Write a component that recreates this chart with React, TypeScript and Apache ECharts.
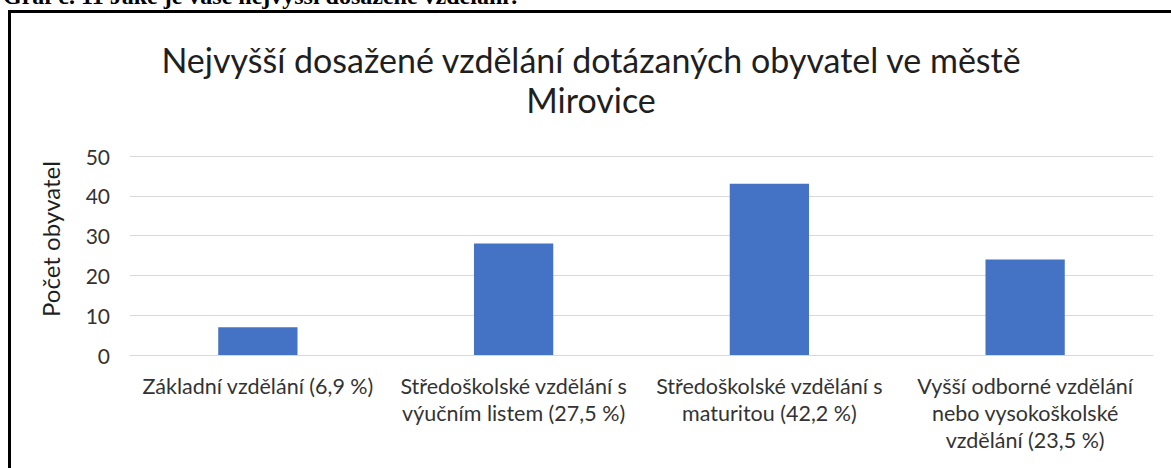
import React, { useEffect, useRef } from "react";
import * as echarts from "echarts";

const headerText = "Graf č. 11 Jaké je vaše nejvyšší dosažené vzdělání?";
const chartTitle = "Nejvyšší dosažené vzdělání dotázaných obyvatel ve městě\nMirovice";
const yAxisName = "Počet obyvatel";
const categories = [
  "Základní vzdělání (6,9 %)",
  "Středoškolské vzdělání s\nvýučním listem (27,5 %)",
  "Středoškolské vzdělání s\nmaturitou (42,2 %)",
  "Vyšší odborné vzdělání\nnebo vysokoškolské\nvzdělání (23,5 %)",
];
const counts = [7, 28, 43, 24];
const yTicks = { min: 0, max: 50, interval: 10 };

const FONT = "Lato, 'Open Sans', sans-serif";

export default function App() {
  const ref = useRef<HTMLDivElement>(null);
  useEffect(() => {
    if (!ref.current) return;
    const chart = echarts.init(ref.current, null, { renderer: "svg" });
    chart.setOption({
      animation: false,
      backgroundColor: "#ffffff",
      title: {
        text: chartTitle,
        left: 586,
        textAlign: "center",
        top: 34,
        textStyle: {
          fontFamily: FONT,
          fontSize: 34,
          fontWeight: "normal",
          color: "#1f1f1f",
          lineHeight: 40,
        },
      },
      graphic: [
        {
          type: "text",
          x: 3,
          y: 8,
          style: {
            text: headerText,
            font: "bold 24px 'Liberation Serif', serif",
            fill: "#000000",
            textVerticalAlign: "bottom",
          },
        },
        {
          type: "rect",
          shape: { x: 9.5, y: 11.5, width: 1300, height: 600 },
          style: { fill: "none", stroke: "#000000", lineWidth: 3 },
        },
        {
          type: "text",
          x: 50,
          y: 239,
          rotation: Math.PI / 2,
          style: {
            text: yAxisName,
            font: "24px " + FONT,
            fill: "#1f1f1f",
            textAlign: "center",
            textVerticalAlign: "middle",
          },
        },
      ],
      grid: { left: 130, right: 18, top: 156, bottom: 113 },
      xAxis: {
        type: "category",
        data: categories,
        axisLine: { lineStyle: { color: "#d9d9d9", width: 1 } },
        axisTick: { show: false },
        axisLabel: {
          interval: 0,
          margin: 17,
          fontFamily: FONT,
          fontSize: 21.5,
          lineHeight: 27,
          color: "#333333",
        },
      },
      yAxis: {
        type: "value",
        min: yTicks.min,
        max: yTicks.max,
        interval: yTicks.interval,
        axisLine: { show: false },
        axisTick: { show: false },
        splitLine: { lineStyle: { color: "#d9d9d9", width: 1 } },
        axisLabel: {
          margin: 20,
          fontFamily: FONT,
          fontSize: 21,
          color: "#333333",
        },
      },
      series: [
        {
          type: "bar",
          data: counts,
          barWidth: "31%",
          itemStyle: { color: "#4472c4" },
        },
      ],
    });
    return () => chart.dispose();
  }, []);
  return (
    <div
      ref={ref}
      style={{ position: "absolute", left: 0, top: 0, width: 1171, height: 468 }}
    />
  );
}
